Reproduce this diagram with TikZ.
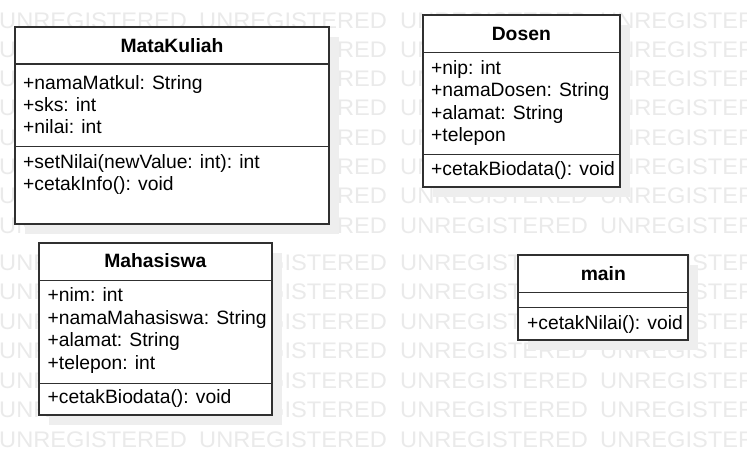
\documentclass[tikz,border=0pt]{standalone}
\usepackage{fontspec}
\setmainfont{Liberation Sans}
\usetikzlibrary{shadows}
\definecolor{wm}{RGB}{234,234,234}
\definecolor{shd}{RGB}{238,238,238}
\definecolor{ln}{RGB}{48,48,48}
\newcommand{\wmword}{\scalebox{1.05}[1]{UNREGISTERED}}
\tikzset{
  wmtext/.style={anchor=base west, inner sep=0pt, text=wm, font=\fontsize{22.5}{22.5}\selectfont},
  classbox/.style={draw=ln, line width=1.8pt, fill=white, anchor=north west, inner sep=0pt, outer sep=0pt,
    drop shadow={shadow xshift=10pt, shadow yshift=-10pt, fill=shd, opacity=1}},
  sepline/.style={draw=ln, line width=1.3pt},
  classtitle/.style={anchor=base, inner sep=0pt, font=\fontsize{19.3}{22}\selectfont\bfseries},
  member/.style={anchor=base west, inner sep=0pt, font=\fontsize{19.3}{22}\selectfont},
}
\begin{document}
\begin{tikzpicture}[x=1pt,y=-1pt]
\useasboundingbox (0,0) rectangle (747,475);
\clip (0,0) rectangle (747,475);
\fill[white] (0,0) rectangle (747,475);
% watermark
\foreach \r [count=\i] in {28,57.3,86.6,115.9,145.2,174.5,203.8,233.1,270,299.5,329,358.5,388,417.5,447}
  \foreach \c [count=\j] in {-1,199,400,600}
    \node[wmtext] (wm\i-\j) at (\c,\r) {\wmword};

% MataKuliah
\node[classbox, minimum width=314pt, minimum height=197pt] (mk) at (15,27) {};
\draw[sepline] ([yshift=-37pt]mk.north west) -- ([yshift=-37pt]mk.north east);
\draw[sepline] ([yshift=-119.7pt]mk.north west) -- ([yshift=-119.7pt]mk.north east);
\node[classtitle] (mkt) at (172,52.3) {MataKuliah};
\node[member] (mka1) at (23,89.3) {+namaMatkul: String};
\node[member] (mka2) at (23,111.6) {+sks: int};
\node[member] (mka3) at (23,133.9) {+nilai: int};
\node[member] (mkm1) at (23,168.3) {+setNilai(newValue: int): int};
\node[member] (mkm2) at (23,190.6) {+cetakInfo(): void};

% Dosen
\node[classbox, minimum width=197.3pt, minimum height=172.3pt] (ds) at (422.7,15) {};
\draw[sepline] ([yshift=-37.3pt]ds.north west) -- ([yshift=-37.3pt]ds.north east);
\draw[sepline] ([yshift=-139.3pt]ds.north west) -- ([yshift=-139.3pt]ds.north east);
\node[classtitle] (dst) at (521.3,40) {Dosen};
\node[member] (dsa1) at (431,74) {+nip: int};
\node[member] (dsa2) at (431,96.5) {+namaDosen: String};
\node[member] (dsa3) at (431,119) {+alamat: String};
\node[member] (dsa4) at (431,141.5) {+telepon};
\node[member] (dsm1) at (431,175.7) {+cetakBiodata(): void};

% Mahasiswa
\node[classbox, minimum width=232.7pt, minimum height=172.3pt] (mh) at (39,242.7) {};
\draw[sepline] ([yshift=-38pt]mh.north west) -- ([yshift=-38pt]mh.north east);
\draw[sepline] ([yshift=-140.6pt]mh.north west) -- ([yshift=-140.6pt]mh.north east);
\node[classtitle] (mht) at (155.3,267.7) {Mahasiswa};
\node[member] (mha1) at (47.5,301.7) {+nim: int};
\node[member] (mha2) at (47.5,324.2) {+namaMahasiswa: String};
\node[member] (mha3) at (47.5,346.7) {+alamat: String};
\node[member] (mha4) at (47.5,369.2) {+telepon: int};
\node[member] (mhm1) at (47.5,403.3) {+cetakBiodata(): void};

% main
\node[classbox, minimum width=170pt, minimum height=85pt] (mn) at (518.3,255) {};
\draw[sepline] ([yshift=-37.3pt]mn.north west) -- ([yshift=-37.3pt]mn.north east);
\draw[sepline] ([yshift=-52.7pt]mn.north west) -- ([yshift=-52.7pt]mn.north east);
\node[classtitle] (mnt) at (603.3,280) {main};
\node[member] (mnm1) at (527,329.3) {+cetakNilai(): void};
\end{tikzpicture}
\end{document}
